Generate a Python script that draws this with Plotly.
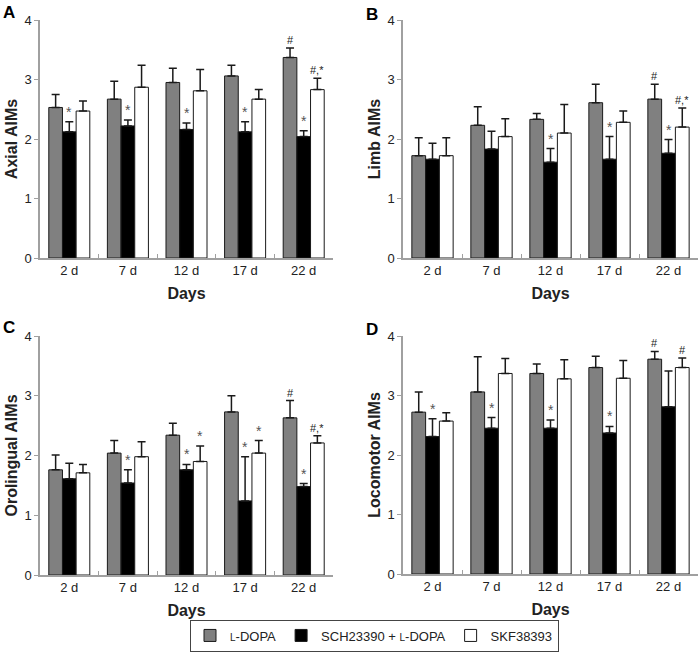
import plotly.graph_objects as go

days = ["2 d", "7 d", "12 d", "17 d", "22 d"]
series_names = ["<span style='font-size:10px'>L</span>-DOPA",
                "SCH23390 + <span style='font-size:10px'>L</span>-DOPA",
                "SKF38393"]
series_colors = ["#808080", "#000000", "#ffffff"]

# Panel A: Axial AIMs
A_ldopa = [2.53, 2.67, 2.95, 3.06, 3.37]
A_sch = [2.12, 2.22, 2.16, 2.12, 2.04]
A_skf = [2.47, 2.87, 2.81, 2.67, 2.83]
A_ldopa_err = [0.22, 0.30, 0.24, 0.18, 0.16]
A_sch_err = [0.17, 0.10, 0.11, 0.17, 0.10]
A_skf_err = [0.17, 0.37, 0.36, 0.16, 0.19]

# Panel B: Limb AIMs
B_ldopa = [1.72, 2.23, 2.33, 2.61, 2.67]
B_sch = [1.66, 1.83, 1.61, 1.66, 1.76]
B_skf = [1.72, 2.04, 2.10, 2.28, 2.20]
B_ldopa_err = [0.30, 0.31, 0.10, 0.31, 0.25]
B_sch_err = [0.27, 0.30, 0.23, 0.38, 0.23]
B_skf_err = [0.30, 0.30, 0.48, 0.19, 0.32]

# Panel C: Orolingual AIMs
C_ldopa = [1.76, 2.04, 2.34, 2.73, 2.63]
C_sch = [1.61, 1.54, 1.76, 1.24, 1.48]
C_skf = [1.71, 1.98, 1.90, 2.04, 2.21]
C_ldopa_err = [0.25, 0.21, 0.20, 0.27, 0.29]
C_sch_err = [0.26, 0.22, 0.09, 0.74, 0.05]
C_skf_err = [0.14, 0.25, 0.26, 0.21, 0.12]

# Panel D: Locomotor AIMs
D_ldopa = [2.72, 3.06, 3.37, 3.47, 3.61]
D_sch = [2.31, 2.45, 2.45, 2.37, 2.81]
D_skf = [2.57, 3.37, 3.28, 3.29, 3.47]
D_ldopa_err = [0.34, 0.59, 0.16, 0.19, 0.13]
D_sch_err = [0.30, 0.18, 0.14, 0.11, 0.60]
D_skf_err = [0.14, 0.25, 0.32, 0.30, 0.16]

# significance marks: (day index, series index, text)
A_marks = [(0, 1, "*"), (1, 1, "*"), (2, 1, "*"), (3, 1, "*"), (4, 1, "*"), (4, 0, "#"), (4, 2, "#,*")]
B_marks = [(2, 1, "*"), (3, 1, "*"), (4, 1, "*"), (4, 0, "#"), (4, 2, "#,*")]
C_marks = [(1, 1, "*"), (2, 1, "*"), (2, 2, "*"), (3, 1, "*"), (3, 2, "*"), (4, 1, "*"), (4, 0, "#"), (4, 2, "#,*")]
D_marks = [(0, 1, "*"), (1, 1, "*"), (2, 1, "*"), (3, 1, "*"), (4, 0, "#"), (4, 2, "#")]

y_titles = ["Axial AIMs", "Limb AIMs", "Orolingual AIMs", "Locomotor AIMs"]
panel_letters = ["A", "B", "C", "D"]
y_ticks = [0, 1, 2, 3, 4]

W, H = 699, 657
FONT = "Arial, 'Liberation Sans', sans-serif"
AXCOL = "#a0a0a0"
TXT = "#222222"

panels = [
    ([A_ldopa, A_sch, A_skf], [A_ldopa_err, A_sch_err, A_skf_err], A_marks),
    ([B_ldopa, B_sch, B_skf], [B_ldopa_err, B_sch_err, B_skf_err], B_marks),
    ([C_ldopa, C_sch, C_skf], [C_ldopa_err, C_sch_err, C_skf_err], C_marks),
    ([D_ldopa, D_sch, D_skf], [D_ldopa_err, D_sch_err, D_skf_err], D_marks),
]

# pixel boxes of the plot areas: (left, right, top, bottom)
boxes = [(40, 333, 20, 258), (403, 698, 20, 258), (40, 333, 336, 575), (403, 698, 336, 574)]
letter_pos = [(1, 1), (364, 3), (1, 316), (364, 318)]

BARGAP = 0.3
fig = go.Figure()
layout = {}
annotations = []

for p, ((means, errs, marks), box) in enumerate(zip(panels, boxes)):
    sfx = "" if p == 0 else str(p + 1)
    xa, ya = "x" + sfx, "y" + sfx
    for s in range(3):
        fig.add_trace(go.Bar(
            x=days, y=means[s], name=series_names[s],
            marker=dict(color=series_colors[s], line=dict(color="#1a1a1a", width=1)),
            error_y=dict(type="data", array=errs[s], arrayminus=[0] * len(errs[s]),
                         symmetric=False, color="#1a1a1a", thickness=1.5, width=4),
            xaxis=xa, yaxis=ya, showlegend=(p == 0), legendgroup=str(s),
        ))
    l, r, t, b = box
    layout["xaxis" + sfx] = dict(
        domain=[l / W, r / W], anchor=ya, type="category", range=[-0.5, 4.5],
        showline=True, linecolor=AXCOL, linewidth=1.5, automargin=False,
        ticks="inside", tickson="boundaries", ticklen=4, tickcolor=AXCOL, tickwidth=1,
        tickfont=dict(family=FONT, size=13, color=TXT),
        title=dict(text="<b>Days</b>", font=dict(family=FONT, size=16, color=TXT), standoff=10),
        showgrid=False, zeroline=False, fixedrange=True,
    )
    layout["yaxis" + sfx] = dict(
        domain=[1 - b / H, 1 - t / H], anchor=xa, range=[0, 4], tickvals=y_ticks,
        showline=True, linecolor=AXCOL, linewidth=1.5, automargin=False,
        ticks="outside", ticklen=4, tickcolor=AXCOL, tickwidth=1,
        tickfont=dict(family=FONT, size=13, color=TXT),
        title=dict(text="<b>" + y_titles[p] + "</b>", font=dict(family=FONT, size=16, color=TXT), standoff=3),
        showgrid=False, zeroline=False, fixedrange=True,
    )
    # bar offset in pixels within a group
    cat_px = (r - l) / 5.0
    bar_px = cat_px * (1 - BARGAP) / 3.0
    for (di, si, txt) in marks:
        top = means[si][di] + errs[si][di]
        annotations.append(dict(
            x=days[di], y=top, xref=xa, yref=ya, text=txt, showarrow=False,
            xshift=(si - 1) * bar_px, yshift=0, yanchor="bottom",
            font=dict(family=FONT, size=14 if txt == "*" else 11,
                      color="#555555" if txt == "*" else "#222222"),
        ))
    lx, ly = letter_pos[p]
    annotations.append(dict(
        x=lx / W, y=1 - ly / H, xref="paper", yref="paper", xanchor="left", yanchor="top",
        text="<b>" + panel_letters[p] + "</b>", showarrow=False,
        font=dict(family=FONT, size=17, color="#000000"),
    ))

fig.update_layout(
    width=W, height=H, margin=dict(l=0, r=0, t=0, b=0, autoexpand=False),
    paper_bgcolor="white", plot_bgcolor="white",
    barmode="group", bargap=BARGAP, bargroupgap=0,
    font=dict(family=FONT, color=TXT),
    legend=dict(orientation="h", x=374.5 / W, y=1 - 635.5 / H, xanchor="center", yanchor="middle",
                bordercolor="#444444", borderwidth=1, font=dict(family=FONT, size=13, color=TXT),
                itemclick=False, itemdoubleclick=False),
    annotations=annotations,
    **layout,
)

fig.write_html("out.html", config={"displayModeBar": False},
               post_script="document.body.style.margin='0px';document.body.style.overflow='hidden';")
